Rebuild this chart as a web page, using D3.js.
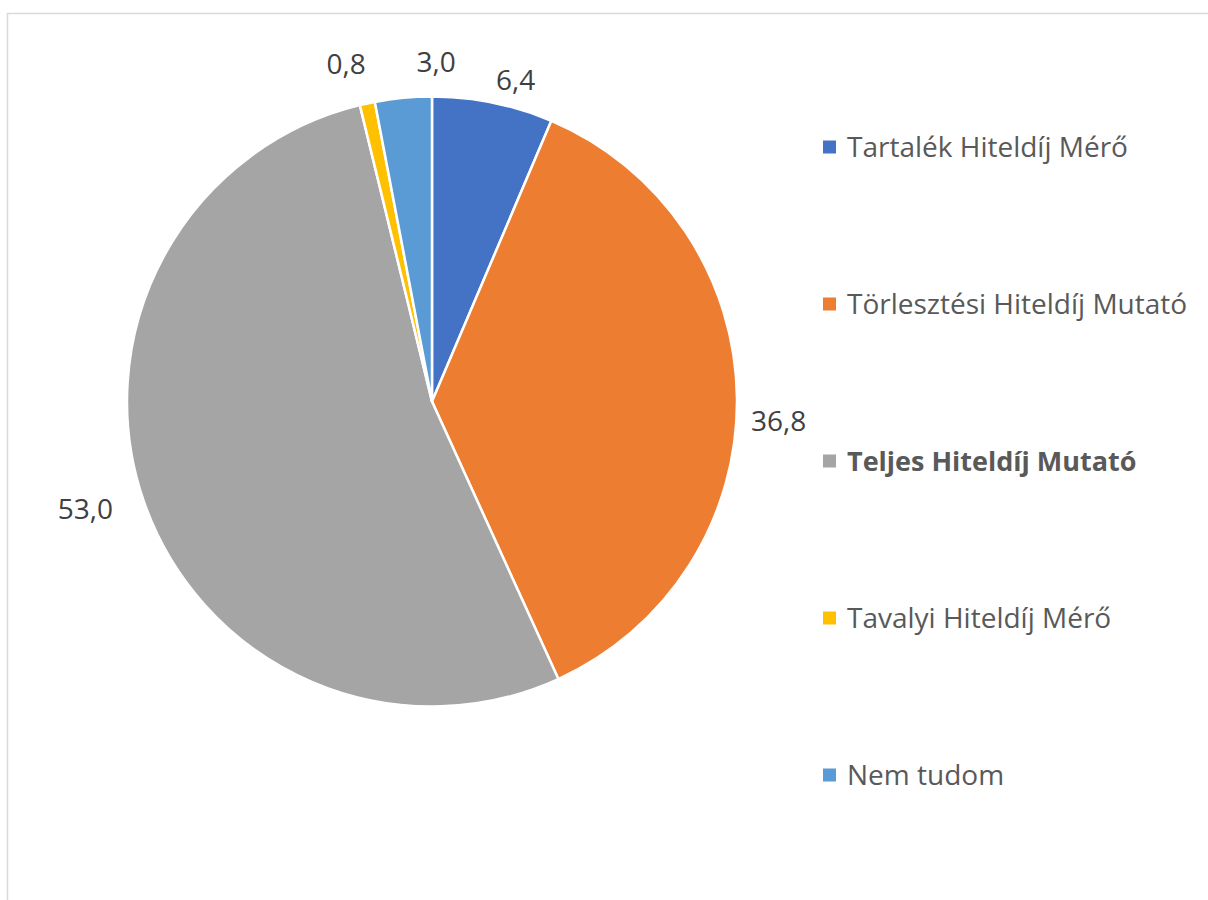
<!DOCTYPE html>
<html>
<head>
<meta charset="utf-8">
<script src="https://cdn.jsdelivr.net/npm/d3@7"></script>
<style>
  html, body { margin: 0; padding: 0; background: #fff; }
  svg { display: block; }
</style>
</head>
<body>
<svg id="chart" width="1208" height="900"></svg>
<script>
// ---- data ----
const categories = ["Tartalék Hiteldíj Mérő", "Törlesztési Hiteldíj Mutató", "Teljes Hiteldíj Mutató", "Tavalyi Hiteldíj Mérő", "Nem tudom"];
const values = [6.4, 36.8, 53.0, 0.8, 3.0];
const valueLabels = ["6,4", "36,8", "53,0", "0,8", "3,0"];
const colors = ["#4472c4", "#ed7d31", "#a5a5a5", "#ffc000", "#5b9bd5"];
const boldLegend = [false, false, true, false, false];

// ---- layout ----
const svg = d3.select("#chart");
const cx = 432, cy = 401.5, r = 305;

// frame
svg.append("path")
  .attr("d", "M7.5,1000 V13.5 H1300")
  .attr("fill", "none")
  .attr("stroke", "#d9d9d9")
  .attr("stroke-width", 1.5);

const pie = d3.pie().sort(null).value(d => d)(values);
const arc = d3.arc().innerRadius(0).outerRadius(r);

const g = svg.append("g").attr("transform", `translate(${cx},${cy})`);
g.selectAll("path.slice")
  .data(pie)
  .join("path")
  .attr("class", "slice")
  .attr("d", arc)
  .attr("fill", (d, i) => colors[i])
  .attr("stroke", "#ffffff")
  .attr("stroke-width", 2.5)
  .attr("stroke-linejoin", "round");

// data labels (outside end, with best-fit adjustments)
const labelFont = 28, capH = 20, boxH = 34, gap = 14;
const labelAdjust = [[16, 8], [0, 24], [-19, -2], [-14, -9], [36, -5]];
const labelArc = d3.arc().innerRadius(r + gap).outerRadius(r + gap);
const lbl = g.selectAll("text.lbl")
  .data(pie)
  .join("text")
  .attr("class", "lbl")
  .attr("font-family", "'Open Sans', sans-serif")
  .attr("font-size", labelFont)
  .attr("fill", "#404040")
  .attr("text-anchor", "middle")
  .text((d, i) => valueLabels[i]);
lbl.each(function(d, i) {
  const w = this.getComputedTextLength();
  const a = (d.startAngle + d.endAngle) / 2;
  const dx = Math.sin(a), dy = -Math.cos(a);
  const [ax, ay] = labelArc.centroid(d);
  const x = ax + dx * w / 2 + labelAdjust[i][0];
  const y = ay + dy * boxH / 2 + labelAdjust[i][1];
  d3.select(this).attr("x", x).attr("y", y + capH / 2);
});

// legend
const legendX = 823, legendY0 = 147, legendStep = 157, sw = 13;
const leg = svg.append("g").selectAll("g")
  .data(categories)
  .join("g")
  .attr("transform", (d, i) => `translate(${legendX},${legendY0 + i * legendStep})`);
leg.append("rect")
  .attr("x", 0).attr("y", -sw / 2)
  .attr("width", sw).attr("height", sw)
  .attr("fill", (d, i) => colors[i]);
leg.append("text")
  .attr("x", 24).attr("y", 10)
  .attr("font-family", "'Open Sans', sans-serif")
  .attr("font-size", (d, i) => boldLegend[i] ? 27 : 28)
  .attr("font-weight", (d, i) => boldLegend[i] ? "bold" : "normal")
  .attr("fill", "#595959")
  .text(d => d);
</script>
</body>
</html>
